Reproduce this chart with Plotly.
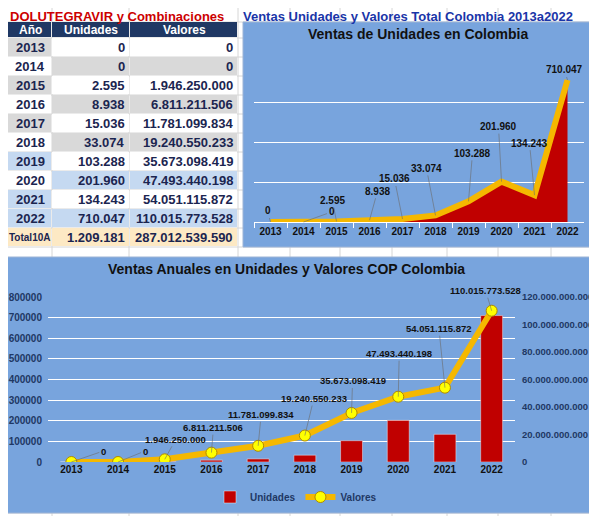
import plotly.graph_objects as go

W, H = 597, 516
OFF = 8  # the page puts the figure 8 px in from the top-left corner

# data
years = ['2013', '2014', '2015', '2016', '2017', '2018', '2019', '2020', '2021', '2022']
unidades = [0, 0, 2595, 8938, 15036, 33074, 103288, 201960, 134243, 710047]
valores = [0, 0, 1946250000, 6811211506, 11781099834, 19240550233,
           35673098419, 47493440198, 54051115872, 110015773528]
headers = ['Año', 'Unidades', 'Valores']
total_label = 'Total10A'

# label offsets in pixels (dx, dy) as placed in the original sheet
top_offsets = [(-3, -11), (28, -10), (-4, -21), (8, -29), (-8, -40),
               (-9, -47), (4, -48), (-3, -55), (-5, -52), (-3, -10)]
bot_offsets = [(32, -11), (27, -11), (11, -20), (2, -25), (3, -31),
               (9, -37), (1, -32), (1, -43), (-6, -59), (-6, -20)]

# table cell fill classes: 0 white, 1 gray, 2 light blue, 3 cream, 4 navy
year_fill = [1, 0, 1, 0, 1, 0, 2, 0, 2, 2, 3]
val_fill = [0, 1, 0, 1, 0, 1, 0, 2, 0, 2, 3]
col_edges = [0, 52, 130, 238]
row_edges = [22, 38] + [38 + 19 * k for k in range(1, 12)]

FONT = 'Liberation Sans, Arial, sans-serif'
BLUE_BG = '#78a4dd'
RED = '#c00000'
GOLD = '#f5b800'
NAVY = '#1f3864'
TXT = '#1b2550'


def px(x):
    return (x - OFF) / W


def py(y):
    return 1 - (y - OFF) / H


def fmt(v):
    return f'{v:,}'.replace(',', '.')


fig = go.Figure()

# table drawn as a heatmap on its own axes
z = [[4, 4, 4]] + [[a, b, b] for a, b in zip(year_fill, val_fill)]
scale_cols = ['#ffffff', '#d9d9d9', '#c5d9f1', '#fde9c4', NAVY]
cscale = []
for i, c in enumerate(scale_cols):
    cscale += [[i / 5, c], [(i + 1) / 5, c]]
fig.add_trace(go.Heatmap(
    x=col_edges, y=row_edges, z=z, zmin=-0.5, zmax=4.5, colorscale=cscale,
    showscale=False, xgap=1, ygap=1, hoverinfo='skip', xaxis='x3', yaxis='y4'
))

# top chart: area of units
fig.add_trace(go.Scatter(
    x=years, y=unidades, mode='lines', fill='tozeroy', fillcolor=RED,
    line=dict(color=GOLD, width=6), showlegend=False, hoverinfo='skip',
    xaxis='x', yaxis='y'
))

# bottom chart: bars + line
fig.add_trace(go.Bar(
    x=years, y=unidades, name='Unidades', marker_color=RED, width=0.47,
    xaxis='x2', yaxis='y2'
))
fig.add_trace(go.Scatter(
    x=years, y=valores, name='Valores', mode='lines+markers',
    line=dict(color=GOLD, width=6),
    marker=dict(size=11, color='#ffff00', line=dict(color='#b08a00', width=1)),
    xaxis='x2', yaxis='y3'
))

annotations = []

# table texts
row_mid = [(row_edges[i] + row_edges[i + 1]) / 2 for i in range(len(row_edges) - 1)]
for j, h in enumerate(headers):
    annotations.append(dict(x=(col_edges[j] + col_edges[j + 1]) / 2 + (4 if j == 0 else 0),
                            y=row_mid[0], xref='x3', yref='y4', text=f'<b>{h}</b>',
                            showarrow=False, xanchor='center', yanchor='middle',
                            font=dict(family=FONT, size=12, color='white')))
col_year = years + [total_label]
col_uni = [fmt(u) for u in unidades] + [fmt(sum(unidades))]
col_val = [fmt(v) for v in valores] + [fmt(sum(valores))]
for i in range(len(col_year)):
    yy = row_mid[i + 1]
    annotations.append(dict(x=(col_edges[0] + col_edges[1]) / 2 + 4, y=yy, xref='x3', yref='y4',
                            text=f'<b>{col_year[i]}</b>', showarrow=False,
                            xanchor='center', yanchor='middle',
                            font=dict(family=FONT, size=10 if i == 10 else 13, color=TXT)))
    annotations.append(dict(x=col_edges[2] - 3, y=yy, xref='x3', yref='y4', xanchor='right',
                            yanchor='middle', text=f'<b>{col_uni[i]}</b>', showarrow=False,
                            font=dict(family=FONT, size=13, color=TXT)))
    annotations.append(dict(x=col_edges[3] - 3, y=yy, xref='x3', yref='y4', xanchor='right',
                            yanchor='middle', text=f'<b>{col_val[i]}</b>', showarrow=False,
                            font=dict(family=FONT, size=13, color=TXT)))

# data labels (category axes take the category index)
for i, (u, (dx, dy)) in enumerate(zip(unidades, top_offsets)):
    annotations.append(dict(x=i, y=u, xref='x', yref='y', text=fmt(u), ax=dx, ay=dy,
                            showarrow=True, arrowhead=0, arrowwidth=0.6,
                            arrowcolor='#6b6b6b', standoff=0,
                            font=dict(family=FONT, size=10, color='#111111', weight='bold')))
for i, (v, (dx, dy)) in enumerate(zip(valores, bot_offsets)):
    annotations.append(dict(x=i, y=v, xref='x2', yref='y3', text=fmt(v), ax=dx, ay=dy,
                            showarrow=True, arrowhead=0, arrowwidth=0.6,
                            arrowcolor='#6b6b6b', standoff=0,
                            font=dict(family=FONT, size=9.5, color='#111111', weight='bold')))

# headings
annotations += [
    dict(x=px(117), y=py(16), xref='paper', yref='paper', showarrow=False,
         xanchor='center', yanchor='middle', text='<b>DOLUTEGRAVIR y Combinaciones</b>',
         font=dict(family=FONT, size=13, color='#cc0000')),
    dict(x=px(408), y=py(16), xref='paper', yref='paper', showarrow=False,
         xanchor='center', yanchor='middle',
         text='<b>Ventas Unidades y Valores Total Colombia 2013a2022</b>',
         font=dict(family=FONT, size=13, color='#1a35a8')),
    dict(x=px(418), y=py(34), xref='paper', yref='paper', showarrow=False,
         xanchor='center', yanchor='middle', text='<b>Ventas de Unidades en Colombia</b>',
         font=dict(family=FONT, size=14, color='#111111')),
    dict(x=px(286), y=py(269), xref='paper', yref='paper', showarrow=False,
         xanchor='center', yanchor='middle',
         text='<b>Ventas Anuales en Unidades y Valores COP Colombia</b>',
         font=dict(family=FONT, size=14, color='#111111')),
]

# spreadsheet grid + chart backgrounds
shapes = []
for x in [52, 129, 238, 290, 340, 392, 447, 498, 551]:
    shapes.append(dict(type='line', xref='paper', yref='paper', x0=px(x), x1=px(x),
                       y0=py(530), y1=py(0), line=dict(color='#d6d6d6', width=1), layer='below'))
for y in [22] + [38 + 19 * k for k in range(26)]:
    shapes.append(dict(type='line', xref='paper', yref='paper', x0=px(0), x1=px(610),
                       y0=py(y), y1=py(y), line=dict(color='#d6d6d6', width=1), layer='below'))
shapes.append(dict(type='rect', xref='paper', yref='paper', x0=px(243), x1=px(600),
                   y0=py(247), y1=py(22), fillcolor=BLUE_BG,
                   line=dict(color='#9db4d6', width=1), layer='below'))
shapes.append(dict(type='rect', xref='paper', yref='paper', x0=px(3), x1=px(595),
                   y0=py(513), y1=py(257), fillcolor=BLUE_BG,
                   line=dict(color='#9db4d6', width=1), layer='below'))

tick_black = dict(family=FONT, size=10, color='#111111', weight='bold')
tick_navy = dict(family=FONT, size=10, color=NAVY, weight='bold')

fig.update_layout(
    width=W, height=H,
    margin=dict(l=0, r=0, t=0, b=0),
    paper_bgcolor='white', plot_bgcolor='rgba(0,0,0,0)',
    separators=',.',
    annotations=annotations, shapes=shapes,
    xaxis=dict(domain=[px(254), px(584)], anchor='y', type='category', range=[-0.5, 9.5],
               showgrid=False, showline=True, linecolor='white', tickson='boundaries',
               ticks='outside', ticklen=5, tickcolor='white', tickangle=0,
               tickfont=tick_black, automargin=False),
    yaxis=dict(domain=[py(222), py(62)], anchor='x', range=[0, 800000], dtick=200000,
               showticklabels=False, gridcolor='white', zeroline=False, automargin=False),
    xaxis2=dict(domain=[px(48), px(515)], anchor='y2', type='category', range=[-0.5, 9.5],
                showgrid=False, showline=False, ticks='', tickangle=0,
                tickfont=tick_black, automargin=False),
    yaxis2=dict(domain=[py(462), py(297)], anchor='x2', range=[0, 800000], dtick=100000,
                tickformat='d', gridcolor='white', zeroline=False, tickfont=tick_navy,
                ticklabelstandoff=5, automargin=False),
    yaxis3=dict(overlaying='y2', anchor='x2', side='right', range=[0, 120e9], dtick=20e9,
                tickformat=',d', showgrid=False, zeroline=False,
                tickfont=dict(family=FONT, size=9.5, color=NAVY, weight='bold'),
                ticklabelstandoff=6, automargin=False),
    xaxis3=dict(domain=[px(8), px(238)], anchor='y4', range=[8, 238], visible=False,
                automargin=False),
    yaxis4=dict(domain=[py(247), py(22)], anchor='x3', range=[247, 22], visible=False,
                automargin=False),
    legend=dict(orientation='h', x=px(296), y=py(497), xanchor='center', yanchor='middle',
                bgcolor='rgba(0,0,0,0)', font=dict(family=FONT, size=10, color=NAVY, weight='bold'),
                itemwidth=30),
)

fig.write_html('out.html')
